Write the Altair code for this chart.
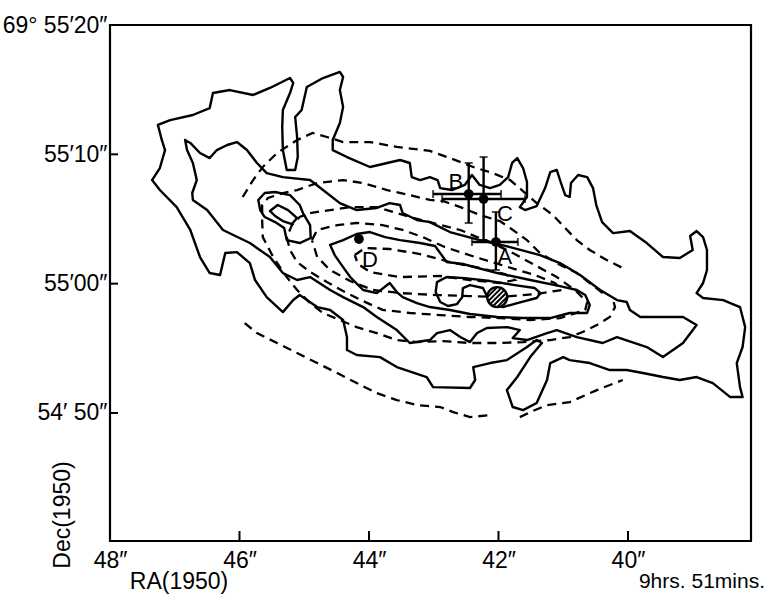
import altair as alt
import pandas as pd
import numpy as np

# Coordinates: RA seconds past 9h51m (1950), Dec arcsec offset from 69d55'00" (1950)
outer_contour = [
    (47.35, 8.01), (47.23, 8.94), (47.15, 10.33), (47.20, 11.11), (47.26, 12.27), (47.07, 12.65),
    (46.72, 13.04), (46.46, 13.58), (46.41, 14.74), (46.15, 14.97), (45.79, 14.59), (45.53, 15.13),
    (45.22, 15.90), (45.17, 15.52), (45.22, 14.74), (45.33, 13.43), (45.34, 12.11), (45.33, 10.33),
    (45.27, 8.79), (45.14, 8.79), (45.10, 9.79), (45.11, 11.34), (45.14, 12.88), (45.04, 13.43),
    (44.96, 15.21), (44.71, 15.90), (44.45, 16.37), (44.40, 15.98), (44.45, 14.97), (44.40, 13.66),
    (44.45, 12.42), (44.56, 11.11), (44.56, 10.33), (44.34, 9.79), (43.985, 9.02), (43.52, 9.56),
    (43.37, 9.33), (43.34, 8.24), (43.21, 8.01), (43.06, 8.24), (42.94, 8.01), (42.90, 7.39),
    (42.72, 7.24), (42.52, 7.63), (42.41, 8.40), (42.29, 7.63), (42.13, 7.39), (41.98, 7.63),
    (41.85, 8.24), (41.79, 9.33), (41.71, 9.71), (41.62, 8.94), (41.56, 7.86), (41.56, 6.70),
    (41.67, 5.92), (41.59, 5.69), (41.41, 6.00), (41.28, 7.39), (41.20, 8.63), (41.10, 8.79),
    (41.04, 7.86), (40.97, 6.85), (40.90, 6.70), (40.88, 7.78), (40.77, 8.40), (40.63, 8.24),
    (40.54, 7.39), (40.49, 6.08), (40.40, 4.76), (40.23, 3.91), (39.97, 4.07), (39.71, 3.14),
    (39.46, 2.06), (39.20, 1.98), (39.00, 2.60), (39.04, 3.68), (38.94, 4.07), (38.84, 3.60),
    (38.78, 2.60), (38.78, 1.05), (38.84, 0.05), (38.94, -0.73), (38.84, -1.11), (38.53, -1.27),
    (38.27, -1.81), (38.19, -3.36), (38.23, -4.90), (38.32, -6.14), (38.27, -8.00), (38.23, -8.77),
    (38.42, -8.77), (38.69, -7.69), (38.94, -7.22), (39.20, -7.45), (39.46, -7.22), (39.77, -6.91),
    (40.02, -6.68), (40.28, -6.68), (40.59, -6.14), (40.90, -5.91), (41.00, -5.68), (41.20, -6.14),
    (41.25, -7.45), (41.41, -9.23), (41.62, -9.78), (41.78, -9.54), (41.87, -8.23), (41.71, -7.22),
    (41.51, -5.68), (41.33, -4.59), (41.41, -4.36), (41.56, -4.90), (41.87, -5.91), (42.13, -6.14),
    (42.39, -6.45), (42.36, -7.45), (42.44, -8.07), (43.01, -8.00), (43.11, -7.22), (43.57, -6.45),
    (43.83, -5.68), (44.19, -5.52), (44.34, -5.13), (44.34, -4.13), (44.40, -2.81), (44.60, -2.04),
    (44.80, -1.81), (45.07, -0.88), (45.17, -1.27), (45.33, -2.20), (45.58, -1.04), (45.76, 0.28),
    (45.84, 1.59), (46.04, 2.44), (46.22, 2.37), (46.30, 0.67), (46.46, 0.82), (46.61, 2.06),
    (46.76, 4.15), (46.97, 5.92), (47.23, 7.24),
]

second_contour = [
    (46.84, 11.11), (46.76, 10.88), (46.61, 10.10), (46.46, 9.71), (46.35, 10.33), (46.19, 10.72),
    (46.04, 10.95), (45.885, 10.33), (45.73, 9.33), (45.58, 8.55), (45.33, 8.24), (44.91, 8.01),
    (44.71, 7.24), (44.45, 6.23), (44.19, 5.69), (43.88, 5.85), (43.68, 6.23), (43.52, 6.08),
    (43.48, 5.46), (43.26, 4.92), (43.06, 4.76), (42.75, 3.99), (42.29, 3.37), (41.82, 2.83),
    (41.36, 2.21), (41.05, 1.59), (40.74, 0.67), (40.43, -0.49), (40.17, -1.27), (40.02, -1.42),
    (39.97, -2.04), (39.81, -2.58), (39.15, -2.58), (38.94, -3.20), (39.15, -4.59), (39.46, -5.68),
    (39.71, -4.90), (40.17, -4.13), (40.39, -4.59), (40.79, -4.13), (41.10, -3.59), (41.25, -3.82),
    (41.56, -4.36), (41.78, -4.21), (41.67, -3.59), (41.87, -3.36), (42.18, -3.43), (42.33, -3.82),
    (42.44, -4.52), (42.59, -4.13), (42.75, -3.59), (42.95, -3.82), (43.06, -4.36), (43.37, -4.59),
    (43.57, -3.59), (43.88, -2.58), (44.09, -1.81), (44.40, -1.04), (44.60, -0.49), (44.91, 0.51),
    (45.11, 0.28), (45.33, 0.82), (45.53, 2.06), (45.84, 3.14), (46.255, 4.15), (46.50, 5.69),
    (46.72, 6.47), (46.73, 7.01), (46.66, 8.01), (46.72, 9.33), (46.81, 10.33),
]

d_contour = [
    (44.60, 2.99), (44.40, 3.37), (44.19, 3.84), (43.985, 3.99), (43.75, 3.60), (43.52, 3.37),
    (43.21, 3.14), (42.98, 2.91), (42.80, 1.67), (42.55, 1.52), (42.02, 0.82), (41.51, 0.28),
    (41.05, -0.19), (40.79, -0.49), (40.66, -0.88), (40.59, -1.65), (40.63, -2.27), (40.90, -2.27),
    (41.20, -2.66), (41.62, -2.66), (42.02, -2.58), (42.44, -2.35), (42.75, -2.04), (43.06, -1.81),
    (43.26, -1.50), (43.48, -1.04), (43.57, -0.65), (43.68, 0.05), (43.88, -0.73), (44.09, -0.49),
    (44.29, 0.51), (44.40, 1.28), (44.53, 2.21),
]

core_contour = [
    (42.95, 0.12), (42.80, 0.51), (42.52, 0.43), (42.13, 0.20), (41.75, -0.11), (41.44, -0.34),
    (41.35, -0.73), (41.41, -1.11), (41.71, -1.50), (41.93, -1.81), (42.09, -1.50), (42.18, -0.96),
    (42.24, -0.34), (42.44, -0.11), (42.55, -0.34), (42.56, -1.04), (42.64, -1.58), (42.78, -1.73),
    (42.90, -1.42), (42.97, -0.65),
]

island_outer = [
    (45.71, 6.47), (45.61, 7.01), (45.45, 7.09), (45.22, 6.85), (45.07, 6.08), (45.02, 5.46),
    (44.91, 4.53), (44.90, 3.53), (45.07, 3.14), (45.27, 3.37), (45.31, 4.30), (45.45, 4.76),
    (45.61, 5.15), (45.68, 5.69),
]

island_inner = [
    (45.53, 5.62), (45.41, 6.08), (45.25, 5.69), (45.11, 5.07), (45.19, 4.61), (45.33, 4.84),
    (45.45, 5.23),
]

dash1_upper = [
    (45.95, 6.70), (45.79, 8.01), (45.64, 9.02), (45.42, 10.10), (45.11, 11.11), (44.87, 11.65),
    (44.65, 11.34), (44.40, 10.95), (43.985, 10.95), (43.57, 10.57), (43.06, 10.26), (42.75, 9.71),
    (42.39, 9.02), (42.09, 8.55), (41.82, 8.01), (41.64, 7.24), (41.41, 6.23), (41.16, 5.31),
    (40.97, 4.30), (40.79, 3.37), (40.59, 2.60), (40.33, 1.83), (40.02, 1.05),
]

dash1_lower_left = [
    (45.92, -3.05), (45.73, -3.82), (45.42, -4.59), (45.11, -5.37), (44.80, -6.14), (44.49, -6.91),
    (44.19, -7.69), (43.88, -8.46), (43.57, -9.00), (43.26, -9.39), (42.90, -9.54), (42.70, -9.93),
    (42.44, -10.32), (42.13, -10.16),
]

dash1_lower_right = [
    (41.67, -10.32), (41.51, -9.93), (41.25, -9.39), (40.90, -9.16), (40.48, -8.23), (40.08, -7.45),
]

dash2 = [
    (40.39, -0.73), (40.59, 0.05), (40.79, 0.82), (41.10, 1.59), (41.36, 2.37), (41.56, 3.37),
    (41.82, 4.30), (41.98, 4.84), (42.29, 5.31), (42.59, 5.92), (42.86, 6.39), (43.06, 6.47),
    (43.37, 6.85), (43.72, 7.24), (44.09, 7.78), (44.40, 8.01), (44.80, 7.78), (45.11, 7.24),
    (45.33, 7.01), (45.56, 6.62), (45.65, 6.08), (45.65, 4.92), (45.64, 3.60), (45.48, 2.06),
    (45.27, 0.51), (45.11, -0.49), (44.91, -1.50), (44.71, -2.27), (44.45, -2.81), (44.19, -3.36),
    (43.88, -3.82), (43.57, -4.36), (43.26, -4.52), (42.86, -4.44), (42.44, -4.59), (42.02, -4.59),
    (41.62, -4.52), (41.20, -4.36), (40.90, -4.13), (40.70, -3.74), (40.48, -3.20), (40.28, -2.58),
    (40.20, -1.81), (40.23, -1.27),
]

dash3 = [
    (44.91, 5.46), (44.60, 5.69), (44.29, 5.92), (43.88, 5.92), (43.57, 5.46), (43.37, 5.15),
    (43.06, 4.76), (42.59, 4.15), (42.33, 3.60), (42.09, 3.14), (41.75, 2.29), (41.44, 1.44),
    (41.10, 0.51), (40.82, -0.49), (40.63, -1.42), (40.66, -2.04), (41.05, -2.66), (41.51, -2.81),
    (41.98, -2.66), (42.44, -2.58), (42.90, -2.43), (43.37, -2.27), (43.79, -2.03), (44.09, -1.35),
    (44.40, -0.57), (44.65, 0.13), (44.91, 0.91), (45.11, 1.67), (45.22, 2.60), (45.27, 3.60),
    (45.19, 4.53), (45.07, 5.15),
]

dash4 = [
    (44.88, 3.37), (44.80, 4.15), (44.49, 4.53), (44.19, 4.69), (43.79, 4.53), (43.48, 4.15),
    (43.17, 3.60), (42.83, 2.83), (42.36, 2.06), (41.90, 1.36), (41.44, 0.67), (41.13, 0.05),
    (41.02, -0.49), (41.41, -0.80), (41.98, -1.04), (42.44, -0.96), (42.95, -0.88), (43.52, -0.73),
    (43.94, -0.49), (44.29, 0.20), (44.60, 1.05), (44.80, 2.06),
]

dash5 = [
    (44.22, 2.21), (44.06, 2.75), (43.68, 2.68), (43.21, 2.29), (42.75, 1.67), (42.29, 1.21),
    (41.90, 0.74), (41.75, 0.28), (41.98, 0.05), (42.44, 0.28), (42.90, 0.59), (43.52, 0.51),
    (43.985, 0.90), (44.17, 1.52),
]

# Source positions with error bars (A, B, C) and D without
src_names = ["A", "B", "C", "D"]
src_ra = [42.04, 42.46, 42.23, 44.155]
src_dec = [3.22, 6.93, 6.54, 3.45]
bar_ra_lo = [42.41, 43.01, 42.87]
bar_ra_hi = [41.70, 41.96, 41.59]
bar_dec_lo = [1.05, 4.69, 3.37]
bar_dec_hi = [5.54, 9.33, 9.79]
label_ra = [41.90, 42.66, 41.90, 43.985]
label_dec = [2.06, 7.86, 5.38, 1.83]

# Hatched disc
disc_ra, disc_dec = 42.02, -1.04

# Axis ticks and labels
ra_ticks = [48, 46, 44, 42, 40]
ra_tick_labels = ["48″", "46″", "44″", "42″", "40″"]
dec_ticks = [20, 10, 0, -10]
dec_tick_labels = ["69° 55′20″", "55′10″", "55′00″", "54′ 50″"]

W, H = 641, 516
RA_DOMAIN = [48, 38.1]
DEC_DOMAIN = [-19.9, 20]
FONT = "Liberation Sans"

closed = {"outer": outer_contour, "second": second_contour, "d": d_contour, "core": core_contour,
          "isl_o": island_outer, "isl_i": island_inner, "dash3": dash3, "dash4": dash4, "dash5": dash5}
open_ = {"dash1u": dash1_upper, "dash1l": dash1_lower_left, "dash1r": dash1_lower_right, "dash2": dash2}
solid_ids = {"outer", "second", "d", "core", "isl_o", "isl_i"}

rows = []
for name, pts in list(closed.items()) + list(open_.items()):
    seq = list(pts) + ([pts[0]] if name in closed else [])
    for i, (ra, dec) in enumerate(seq):
        rows.append({"cid": name, "order": i, "ra": ra, "dec": dec,
                     "style": "solid" if name in solid_ids else "dashed"})
contours = pd.DataFrame(rows)

xscale = alt.Scale(domain=RA_DOMAIN, nice=False, zero=False)
yscale = alt.Scale(domain=DEC_DOMAIN, nice=False, zero=False)

def lab_expr(vals, labs):
    e = "''"
    for v, l in zip(vals, labs):
        e = f"datum.value == {v} ? '{l}' : ({e})"
    return e

xaxis = alt.Axis(values=ra_ticks, labelExpr=lab_expr(ra_ticks, ra_tick_labels), title=None,
                 ticks=False, domain=False, grid=False, labelFlush=False, labelOverlap=False,
                 labelFont=FONT, labelFontSize=23, labelColor="black", labelPadding=8)
yaxis = alt.Axis(values=dec_ticks, labelExpr=lab_expr(dec_ticks, dec_tick_labels), title=None,
                 ticks=False, domain=False, grid=False, labelFlush=False, labelOverlap=False,
                 labelFont=FONT, labelFontSize=23, labelColor="black", labelPadding=3)

def X(f):
    return alt.X(f, type="quantitative", scale=xscale, axis=xaxis)

def Y(f):
    return alt.Y(f, type="quantitative", scale=yscale, axis=yaxis)

solid = alt.Chart(contours[contours["style"] == "solid"]).mark_line(
    color="black", strokeWidth=2.4, strokeJoin="round", strokeCap="round"
).encode(x=X("ra"), y=Y("dec"), detail="cid:N", order="order:Q")

dashed = alt.Chart(contours[contours["style"] == "dashed"]).mark_line(
    color="black", strokeWidth=2.3, strokeDash=[9, 6]
).encode(x=X("ra"), y=Y("dec"), detail="cid:N", order="order:Q")

bars = pd.DataFrame({"name": src_names[:3], "ra": src_ra[:3], "dec": src_dec[:3],
                     "ra_lo": bar_ra_lo, "ra_hi": bar_ra_hi, "dec_lo": bar_dec_lo, "dec_hi": bar_dec_hi})
hbar = alt.Chart(bars).mark_rule(color="black", strokeWidth=2.4).encode(
    x=X("ra_lo"), x2="ra_hi:Q", y=Y("dec"))
vbar = alt.Chart(bars).mark_rule(color="black", strokeWidth=2.4).encode(
    x=X("ra"), y=Y("dec_lo"), y2="dec_hi:Q")
cap_l = alt.Chart(bars).mark_tick(color="black", orient="vertical", size=8, thickness=2).encode(x=X("ra_lo"), y=Y("dec"))
cap_r = alt.Chart(bars).mark_tick(color="black", orient="vertical", size=8, thickness=2).encode(x=X("ra_hi"), y=Y("dec"))
cap_b = alt.Chart(bars).mark_tick(color="black", orient="horizontal", size=8, thickness=2).encode(x=X("ra"), y=Y("dec_lo"))
cap_t = alt.Chart(bars).mark_tick(color="black", orient="horizontal", size=8, thickness=2).encode(x=X("ra"), y=Y("dec_hi"))

srcs = pd.DataFrame({"name": src_names, "ra": src_ra, "dec": src_dec})
dots = alt.Chart(srcs).mark_circle(color="black", size=95, opacity=1).encode(x=X("ra"), y=Y("dec"))

labs = pd.DataFrame({"name": src_names, "ra": label_ra, "dec": label_dec})
labels = alt.Chart(labs).mark_text(font=FONT, fontSize=22, color="black", align="center",
                                   baseline="middle").encode(x=X("ra"), y=Y("dec"), text="name:N")

# hatched disc
disc = pd.DataFrame({"ra": [disc_ra], "dec": [disc_dec]})
disc_mark = alt.Chart(disc).mark_point(shape="circle", size=400, filled=True, fill="white",
                                       stroke="black", strokeWidth=2.4, opacity=1).encode(x=X("ra"), y=Y("dec"))
pxs_ra = W / abs(RA_DOMAIN[0] - RA_DOMAIN[1])
pxs_dec = H / abs(DEC_DOMAIN[1] - DEC_DOMAIN[0])
r_in = 9.5
hrows = []
for s in [-7.0, -3.5, 0.0, 3.5, 7.0]:
    h = np.sqrt(r_in ** 2 - s ** 2)
    cx, cy = s / np.sqrt(2), s / np.sqrt(2)
    dx, dy = h / np.sqrt(2), -h / np.sqrt(2)
    p1 = (cx - dx, cy - dy)
    p2 = (cx + dx, cy + dy)
    hrows.append({"ra": disc_ra - p1[0] / pxs_ra, "dec": disc_dec - p1[1] / pxs_dec,
                  "ra2": disc_ra - p2[0] / pxs_ra, "dec2": disc_dec - p2[1] / pxs_dec})
hatch = alt.Chart(pd.DataFrame(hrows)).mark_rule(color="black", strokeWidth=2).encode(
    x=X("ra"), y=Y("dec"), x2="ra2:Q", y2="dec2:Q")

# inward ticks
xt = alt.Chart(pd.DataFrame({"ra": ra_ticks[1:]})).mark_rule(color="black", strokeWidth=2).encode(
    x=X("ra"), y=alt.value(H), y2=alt.value(H - 10))
yt = alt.Chart(pd.DataFrame({"dec": dec_ticks})).mark_rule(color="black", strokeWidth=2).encode(
    y=Y("dec"), x=alt.value(0), x2=alt.value(8))

def txt(t, x, y, **kw):
    return alt.Chart(pd.DataFrame({"t": [t]})).mark_text(font=FONT, color="black", **kw).encode(
        x=alt.value(x), y=alt.value(y), text="t:N")

t_ra = txt("RA(1950)", 69, 557, fontSize=23, align="center", baseline="middle")
t_hrs = txt("9hrs. 51mins.", 655, 557, fontSize=21, align="right", baseline="middle")
t_dec = txt("Dec(1950)", -47, 490, fontSize=23, align="center", baseline="middle", angle=270)

chart = alt.layer(dashed, solid, hbar, vbar, cap_l, cap_r, cap_b, cap_t, dots, labels,
                  disc_mark, hatch, xt, yt, t_ra, t_hrs, t_dec).properties(
    width=W, height=H,
    padding={"left": 110, "top": 25, "right": 26, "bottom": 56},
    autosize=alt.AutoSizeParams(type="none"),
    background="white",
).configure_view(stroke="black", strokeWidth=2.2)

chart.save("out.html", embed_options={"renderer": "svg", "actions": False})
